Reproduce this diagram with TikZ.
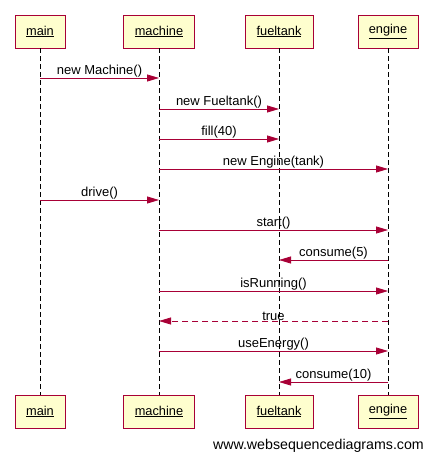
\documentclass[tikz,border=0pt]{standalone}
\usepackage{fontspec}
\setmainfont{Liberation Sans}
\usetikzlibrary{arrows.meta}
\definecolor{wsdred}{HTML}{A80036}
\definecolor{wsdfill}{HTML}{FEFECE}

\begin{document}
\begin{tikzpicture}[x=1pt, y=-1pt,
  actor/.style={draw=wsdred, fill=wsdfill, line width=0.8pt, minimum height=33pt, inner sep=0pt, font=\fontsize{12.8}{14}\selectfont},
  life/.style={dash pattern=on 5pt off 3pt, line width=0.6pt},
  msg/.style={draw=wsdred, line width=0.8pt, -{Triangle[length=12pt,width=7pt]}},
  reply/.style={msg, dash pattern=on 6pt off 4pt},
  lbl/.style={above, inner sep=0.3pt, font=\fontsize{13}{14}\selectfont}]

\useasboundingbox (0,0) rectangle (433,462);

% actors on top
\node[actor, minimum width=50pt] (main) at (40,31.5) {\underline{main}};
\node[actor, minimum width=71pt] (machine) at (159,31.5) {\underline{machine}};
\node[actor, minimum width=68pt] (fueltank) at (279,31.5) {\underline{fueltank}};
\node[actor, minimum width=60pt] (engine) at (388,31.5) {\underline{engine}};

% actors at the bottom
\node[actor, minimum width=50pt] (mainB) at (40,411.5) {\underline{main}};
\node[actor, minimum width=71pt] (machineB) at (159,411.5) {\underline{machine}};
\node[actor, minimum width=68pt] (fueltankB) at (279,411.5) {\underline{fueltank}};
\node[actor, minimum width=60pt] (engineB) at (388,411.5) {\underline{engine}};

% lifelines
\draw[life] (main) -- (mainB);
\draw[life] (machine) -- (machineB);
\draw[life] (fueltank) -- (fueltankB);
\draw[life] (engine) -- (engineB);

% message rows
\coordinate (r1) at (0,78);
\coordinate (r2) at (0,109);
\coordinate (r3) at (0,139);
\coordinate (r4) at (0,169);
\coordinate (r5) at (0,200);
\coordinate (r6) at (0,230);
\coordinate (r7) at (0,260);
\coordinate (r8) at (0,291);
\coordinate (r9) at (0,321);
\coordinate (r10) at (0,351);
\coordinate (r11) at (0,382);

% messages
\draw[msg] (main |- r1) -- node[lbl] {new Machine()} (machine |- r1);
\draw[msg] (machine |- r2) -- node[lbl] {new Fueltank()} (fueltank |- r2);
\draw[msg] (machine |- r3) -- node[lbl] {fill(40)} (fueltank |- r3);
\draw[msg] (machine |- r4) -- node[lbl] {new Engine(tank)} (engine |- r4);
\draw[msg] (main |- r5) -- node[lbl] {drive()} (machine |- r5);
\draw[msg] (machine |- r6) -- node[lbl] {start()} (engine |- r6);
\draw[msg] (engine |- r7) -- node[lbl] {consume(5)} (fueltank |- r7);
\draw[msg] (machine |- r8) -- node[lbl] {isRunning()} (engine |- r8);
\draw[reply] (engine |- r9) -- node[lbl] {true} (machine |- r9);
\draw[msg] (machine |- r10) -- node[lbl] {useEnergy()} (engine |- r10);
\draw[msg] (engine |- r11) -- node[lbl] {consume(10)} (fueltank |- r11);

% footer
\node[anchor=east, inner sep=0pt, font=\fontsize{14.2}{16}\selectfont] (site) at (424,446) {www.websequencediagrams.com};

\end{tikzpicture}
\end{document}
